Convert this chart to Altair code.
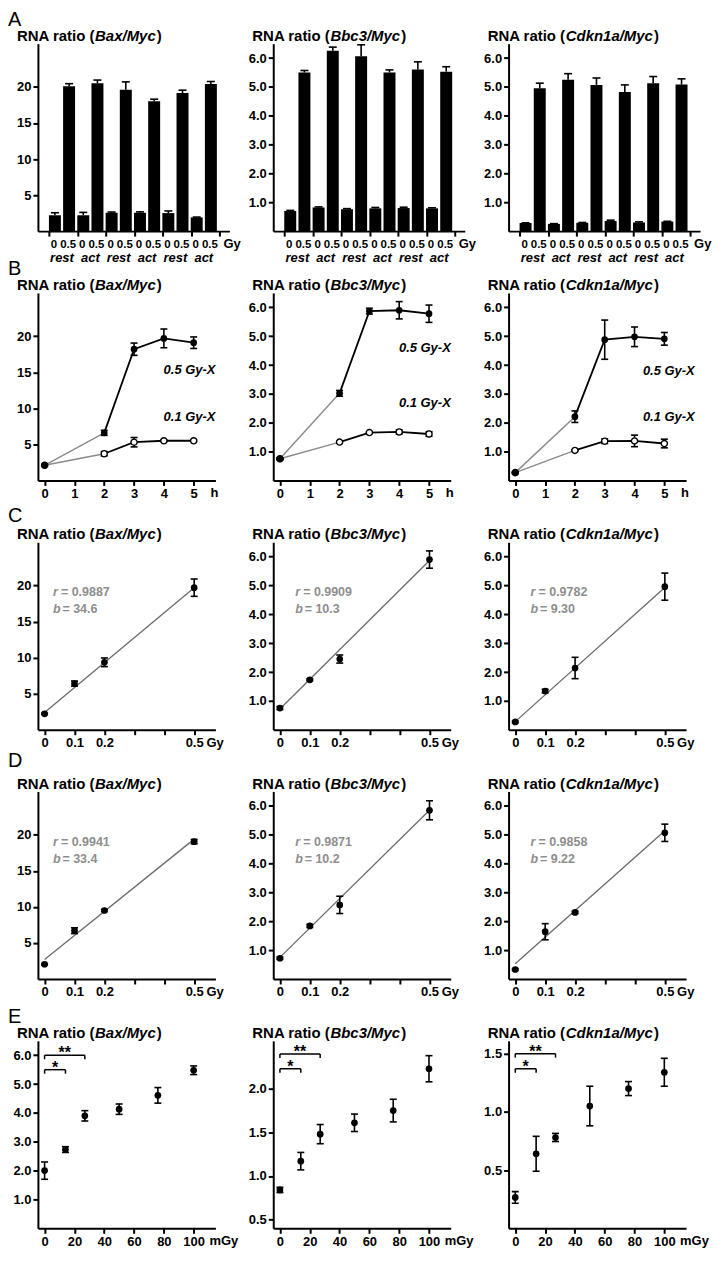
import altair as alt
import pandas as pd

FONT = "Liberation Sans, Arial, Helvetica, sans-serif"
GREY_TXT = "#8e8e8e"
GENES = ["Bax", "Bbc3", "Cdkn1a"]
LETTERS = ["A", "B", "C", "D", "E"]

# ---------------- Row A : bar charts ----------------
A_dose_labels = ["0", "0.5"] * 6
A_states = ["rest", "act", "rest", "act", "rest", "act"]
A_bax = [2.2, 20.1, 2.2, 20.5, 2.55, 19.6, 2.55, 18.0, 2.5, 19.15, 1.9, 20.4]
A_bax_err = [0.35, 0.35, 0.4, 0.45, 0.1, 1.1, 0.12, 0.3, 0.3, 0.4, 0.05, 0.35]
A_bbc3 = [0.70, 5.50, 0.82, 6.25, 0.76, 6.06, 0.79, 5.50, 0.80, 5.60, 0.79, 5.53]
A_bbc3_err = [0.02, 0.07, 0.02, 0.13, 0.02, 0.40, 0.03, 0.09, 0.03, 0.27, 0.02, 0.17]
A_cdkn1a = [0.28, 4.95, 0.25, 5.25, 0.29, 5.07, 0.35, 4.82, 0.30, 5.13, 0.33, 5.08]
A_cdkn1a_err = [0.01, 0.18, 0.01, 0.21, 0.01, 0.24, 0.03, 0.25, 0.02, 0.23, 0.01, 0.20]

# ---------------- Row B : time course ----------------
B_hours = [0, 2, 3, 4, 5]
B_series = ["0.5 Gy-X", "0.1 Gy-X"]
B_bax_hi = [2.1, 6.6, 18.2, 19.7, 19.1]
B_bax_hi_err = [0.1, 0.35, 0.85, 1.3, 0.8]
B_bax_lo = [2.1, 3.7, 5.3, 5.5, 5.5]
B_bax_lo_err = [0.1, 0.3, 0.65, 0.1, 0.1]
B_bbc3_hi = [0.75, 3.02, 5.87, 5.90, 5.78]
B_bbc3_hi_err = [0.03, 0.10, 0.10, 0.30, 0.30]
B_bbc3_lo = [0.75, 1.33, 1.66, 1.68, 1.61]
B_bbc3_lo_err = [0.03, 0.03, 0.03, 0.07, 0.08]
B_cdkn1a_hi = [0.27, 2.21, 4.88, 4.98, 4.91]
B_cdkn1a_hi_err = [0.02, 0.20, 0.68, 0.34, 0.22]
B_cdkn1a_lo = [0.27, 1.04, 1.36, 1.37, 1.28]
B_cdkn1a_lo_err = [0.02, 0.02, 0.08, 0.20, 0.15]
B_label_x = [5.73, 5.73, 6.02]
B_label_y_bax = [14.7, 8.3]
B_label_y_bbc3 = [4.46, 2.55]
B_label_y_cdkn1a = [3.67, 2.07]

# ---------------- Rows C & D : dose response ----------------
CD_dose = [0, 0.1, 0.2, 0.5]
C_bax = [2.2, 6.4, 9.35, 19.7]
C_bax_err = [0.1, 0.35, 0.6, 1.2]
C_bbc3 = [0.75, 1.73, 2.45, 5.90]
C_bbc3_err = [0.05, 0.03, 0.14, 0.30]
C_cdkn1a = [0.27, 1.34, 2.14, 4.96]
C_cdkn1a_err = [0.03, 0.06, 0.37, 0.47]
C_fit_bax = [2.4, 19.7]
C_fit_bbc3 = [0.72, 5.87]
C_fit_cdkn1a = [0.28, 4.93]
C_r = ["= 0.9887", "= 0.9909", "= 0.9782"]
C_b = ["= 34.6", "= 10.3", "= 9.30"]

D_bax = [2.05, 6.7, 9.5, 19.05]
D_bax_err = [0.1, 0.4, 0.15, 0.3]
D_bbc3 = [0.72, 1.84, 2.57, 5.85]
D_bbc3_err = [0.04, 0.05, 0.30, 0.33]
D_cdkn1a = [0.33, 1.64, 2.31, 5.07]
D_cdkn1a_err = [0.03, 0.28, 0.04, 0.30]
D_fit_bax = [2.7, 19.4]
D_fit_bbc3 = [0.75, 5.85]
D_fit_cdkn1a = [0.53, 5.14]
D_r = ["= 0.9941", "= 0.9871", "= 0.9858"]
D_b = ["= 33.4", "= 10.2", "= 9.22"]

CD_annot_x = [0.028, 0.051, 0.051]
C_annot_y_bax = [18.5, 16.2]
C_annot_y_other = [4.62, 4.04]
D_annot_y_bax = [18.4, 16.1]
D_annot_y_other = [4.60, 4.02]

# ---------------- Row E : low dose ----------------
E_dose = [0, 14, 27, 50, 76, 100]
E_bax = [2.0, 2.73, 3.9, 4.13, 4.61, 5.48]
E_bax_err = [0.3, 0.1, 0.18, 0.18, 0.27, 0.15]
E_bbc3 = [0.84, 1.17, 1.48, 1.61, 1.75, 2.23]
E_bbc3_err = [0.03, 0.10, 0.11, 0.10, 0.13, 0.15]
E_cdkn1a = [0.265, 0.64, 0.78, 1.05, 1.20, 1.34]
E_cdkn1a_err = [0.05, 0.15, 0.035, 0.17, 0.06, 0.12]
E_sig_labels = ["**", "*"]
E_sig_end = [27, 14]
E_sig_y_bax = [6.0, 5.5]
E_sig_y_bbc3 = [2.40, 2.23]
E_sig_y_cdkn1a = [1.50, 1.37]

# axis settings
Y_DOM = {"Bax": [0, 26], "Bbc3": [0, 6.5], "Cdkn1a": [0, 6.5]}
Y_TICKS = {"Bax": [5, 10, 15, 20], "Bbc3": [1, 2, 3, 4, 5, 6], "Cdkn1a": [1, 2, 3, 4, 5, 6]}
Y_FMT = {"Bax": "d", "Bbc3": ".1f", "Cdkn1a": ".1f"}
E_DOM = {"Bax": [0, 6.5], "Bbc3": [0.4, 2.55], "Cdkn1a": [0, 1.61]}
E_TICKS = {"Bax": [1, 2, 3, 4, 5, 6], "Bbc3": [0.5, 1.0, 1.5, 2.0], "Cdkn1a": [0.5, 1.0, 1.5]}

H = 188
WA = 192
W = 178
LETTER_Y = [-18, -18, -20, -25, -18]

# Arial/Liberation Sans Bold advance widths (per 1000 em)
AW = {"R": 722, "N": 722, "A": 722, " ": 278, "r": 389, "a": 556, "t": 333, "i": 278,
      "o": 611, "(": 333, ")": 333, "B": 722, "x": 556, "/": 278, "M": 833, "y": 556,
      "c": 556, "b": 611, "3": 556, "C": 722, "d": 611, "k": 556, "n": 611, "1": 556}


def tw(s, size):
    return sum(AW.get(ch, 556) for ch in s) * size / 1000.0


ONE = pd.DataFrame({"k": [0]})


def text_at(txt, x, y, size=15, weight="bold", style="normal", align="left", color="black"):
    return alt.Chart(ONE).mark_text(
        text=txt, align=align, baseline="alphabetic", font=FONT, fontSize=size,
        fontWeight=weight, fontStyle=style, color=color
    ).encode(x=alt.value(x), y=alt.value(y))


def title_layers(gene):
    x0 = -21
    w0 = tw("RNA ratio (", 15)
    w1 = tw(gene + "/Myc", 15)
    return [
        text_at("RNA ratio (", x0, -3),
        text_at(gene + "/Myc", x0 + w0, -3, style="italic"),
        text_at(")", x0 + w0 + w1 + 1, -3),
    ]


def make_x(dom, ticks, fmt=None, labels=True, expr=None):
    def f(field):
        kw = dict(values=ticks)
        if fmt is not None:
            kw["format"] = fmt
        if not labels:
            kw["labels"] = False
        if expr is not None:
            kw["labelExpr"] = expr
        return alt.X(f"{field}:Q", scale=alt.Scale(domain=dom, nice=False, zero=False),
                     axis=alt.Axis(**kw), title=None)
    return f


def make_y(dom, ticks, fmt):
    def f(field):
        return alt.Y(f"{field}:Q", scale=alt.Scale(domain=dom, nice=False, zero=False),
                     axis=alt.Axis(values=ticks, format=fmt), title=None)
    return f


def err_layers(df, Xf, Yf, both=True, cap=8):
    base = alt.Chart(df).transform_calculate(lo="datum.val - datum.err", hi="datum.val + datum.err")
    lower = "lo" if both else "val"
    out = [base.mark_rule(color="black", strokeWidth=1.6).encode(x=Xf("x"), y=Yf(lower), y2=alt.Y2("hi:Q"))]
    out.append(base.mark_tick(orient="horizontal", color="black", size=cap, thickness=1.6, opacity=1)
               .encode(x=Xf("x"), y=Yf("hi")))
    if both:
        out.append(base.mark_tick(orient="horizontal", color="black", size=cap, thickness=1.6, opacity=1)
                   .encode(x=Xf("x"), y=Yf("lo")))
    return out


def letter_layer(row):
    return text_at(LETTERS[row], -30, LETTER_Y[row], size=20, weight="normal")


# ---------------- panels ----------------
def panel_A(gi, vals, errs):
    gene = GENES[gi]
    Xf = make_x([-0.8467, 11.953], [-0.4 + 2 * k for k in range(7)], labels=False)
    Yf = make_y(Y_DOM[gene], Y_TICKS[gene], Y_FMT[gene])
    df = pd.DataFrame({"x": list(range(12)), "val": vals, "err": errs, "lab": A_dose_labels})
    st = pd.DataFrame({"x": [2 * k + 0.5 for k in range(6)], "lab": A_states})
    layers = []
    layers.append(alt.Chart(df).mark_bar(size=12, color="black", opacity=1).encode(x=Xf("x"), y=Yf("val")))
    layers += err_layers(df, Xf, Yf, both=False, cap=8)
    layers.append(alt.Chart(df).mark_text(font=FONT, fontSize=11.5, fontWeight="bold", color="black",
                                          baseline="alphabetic", dx=-1)
                  .encode(x=Xf("x"), y=alt.value(H + 17), text="lab:N"))
    layers.append(alt.Chart(st).mark_text(font=FONT, fontSize=13, fontWeight="bold", fontStyle="italic",
                                          color="black", baseline="alphabetic")
                  .encode(x=Xf("x"), y=alt.value(H + 31), text="lab:N"))
    layers.append(text_at("Gy", 186, H + 17, size=13))
    layers += title_layers(gene)
    if gi == 0:
        layers.append(letter_layer(0))
    return alt.layer(*layers).properties(width=WA, height=H)


def panel_B(gi, hi, hi_err, lo, lo_err, lab_y):
    gene = GENES[gi]
    Xf = make_x([-0.224, 5.729], [0, 1, 2, 3, 4, 5], fmt="d")
    Yf = make_y(Y_DOM[gene], Y_TICKS[gene], Y_FMT[gene])
    df = pd.DataFrame({
        "x": B_hours + B_hours,
        "val": hi + lo,
        "err": hi_err + lo_err,
        "s": ["hi"] * 5 + ["lo"] * 5,
    })
    labs = pd.DataFrame({"x": [B_label_x[gi]] * 2, "y": lab_y, "t": B_series})
    base = alt.Chart(df)
    layers = [
        base.transform_filter("datum.x <= 2").mark_line(color="#8a8a8a", strokeWidth=1.4)
        .encode(x=Xf("x"), y=Yf("val"), detail="s:N"),
        base.transform_filter("datum.x >= 2").mark_line(color="black", strokeWidth=1.8)
        .encode(x=Xf("x"), y=Yf("val"), detail="s:N"),
    ]
    layers += err_layers(df, Xf, Yf, both=True, cap=7)
    layers.append(base.transform_filter("datum.s == 'lo'").mark_circle(
        fill="white", stroke="black", strokeWidth=1.4, size=38, opacity=1).encode(x=Xf("x"), y=Yf("val")))
    layers.append(base.transform_filter("datum.s == 'hi'").mark_circle(
        color="black", size=45, opacity=1).encode(x=Xf("x"), y=Yf("val")))
    layers.append(alt.Chart(labs).mark_text(font=FONT, fontSize=13, fontWeight="bold", fontStyle="italic",
                                            color="black", align="right", baseline="alphabetic")
                  .encode(x=Xf("x"), y=Yf("y"), text="t:N"))
    layers.append(text_at("h", 173, H + 17, size=13))
    layers += title_layers(gene)
    if gi == 0:
        layers.append(letter_layer(1))
    return alt.layer(*layers).properties(width=W, height=H)


CD_EXPR = "(datum.value > 0.25 && datum.value < 0.45) ? '' : (datum.value == 0 ? '0' : format(datum.value, '.1f'))"


def panel_CD(row, gi, vals, errs, fit, rtxt, btxt, annot_y):
    gene = GENES[gi]
    Xf = make_x([-0.0223, 0.571], [0, 0.1, 0.2, 0.3, 0.4, 0.5], expr=CD_EXPR)
    Yf = make_y(Y_DOM[gene], Y_TICKS[gene], Y_FMT[gene])
    df = pd.DataFrame({"x": CD_dose, "val": vals, "err": errs})
    fitdf = pd.DataFrame({"x": [CD_dose[0], CD_dose[-1]], "val": fit})
    ann = pd.DataFrame({"x": [CD_annot_x[gi]] * 2, "y": annot_y,
                        "v": ["r", "b"], "t": [rtxt, btxt]})
    layers = [alt.Chart(fitdf).mark_line(color="#6b6b6b", strokeWidth=1.3).encode(x=Xf("x"), y=Yf("val"))]
    layers += err_layers(df, Xf, Yf, both=True, cap=7)
    layers.append(alt.Chart(df).mark_circle(color="black", size=45, opacity=1).encode(x=Xf("x"), y=Yf("val")))
    layers.append(alt.Chart(ann).mark_text(font=FONT, fontSize=12.5, fontWeight="bold", fontStyle="italic",
                                           color=GREY_TXT, align="left", baseline="alphabetic")
                  .encode(x=Xf("x"), y=Yf("y"), text="v:N"))
    for v, dx in (("r", 8), ("b", 9.5)):
        layers.append(alt.Chart(ann).transform_filter(f"datum.v == '{v}'")
                      .mark_text(font=FONT, fontSize=12.5, fontWeight="bold",
                                 color=GREY_TXT, align="left", baseline="alphabetic", dx=dx)
                      .encode(x=Xf("x"), y=Yf("y"), text="t:N"))
    layers.append(text_at("Gy", 169, H + 17, size=13))
    layers += title_layers(gene)
    if gi == 0:
        layers.append(letter_layer(row))
    return alt.layer(*layers).properties(width=W, height=H)


def panel_E(gi, vals, errs, sig_y):
    gene = GENES[gi]
    Xf = make_x([-4.48, 114.6], [0, 20, 40, 60, 80, 100], fmt="d")
    Yf = make_y(E_DOM[gene], E_TICKS[gene], ".1f")
    df = pd.DataFrame({"x": E_dose, "val": vals, "err": errs})
    sig = pd.DataFrame({"x": [0, 0], "xe": E_sig_end, "y": sig_y, "t": E_sig_labels})
    sb = alt.Chart(sig)
    layers = err_layers(df, Xf, Yf, both=True, cap=7)
    layers.append(alt.Chart(df).mark_circle(color="black", size=45, opacity=1).encode(x=Xf("x"), y=Yf("val")))
    layers.append(sb.mark_rule(color="black", strokeWidth=1.5).encode(x=Xf("x"), x2=alt.X2("xe:Q"), y=Yf("y")))
    layers.append(sb.mark_tick(orient="vertical", color="black", size=4, thickness=1.5, opacity=1, yOffset=2)
                  .encode(x=Xf("x"), y=Yf("y")))
    layers.append(sb.mark_tick(orient="vertical", color="black", size=4, thickness=1.5, opacity=1, yOffset=2)
                  .encode(x=Xf("xe"), y=Yf("y")))
    layers.append(sb.transform_calculate(xm="(datum.x + datum.xe) / 2")
                  .mark_text(font=FONT, fontSize=16, fontWeight="bold", color="black",
                             baseline="alphabetic", dy=3)
                  .encode(x=Xf("xm"), y=Yf("y"), text="t:N"))
    layers.append(text_at("mGy", 172, H + 17, size=13))
    layers += title_layers(gene)
    if gi == 0:
        layers.append(letter_layer(4))
    return alt.layer(*layers).properties(width=W, height=H)


panels = [
    panel_A(0, A_bax, A_bax_err),
    panel_A(1, A_bbc3, A_bbc3_err),
    panel_A(2, A_cdkn1a, A_cdkn1a_err),
    panel_B(0, B_bax_hi, B_bax_hi_err, B_bax_lo, B_bax_lo_err, B_label_y_bax),
    panel_B(1, B_bbc3_hi, B_bbc3_hi_err, B_bbc3_lo, B_bbc3_lo_err, B_label_y_bbc3),
    panel_B(2, B_cdkn1a_hi, B_cdkn1a_hi_err, B_cdkn1a_lo, B_cdkn1a_lo_err, B_label_y_cdkn1a),
    panel_CD(2, 0, C_bax, C_bax_err, C_fit_bax, C_r[0], C_b[0], C_annot_y_bax),
    panel_CD(2, 1, C_bbc3, C_bbc3_err, C_fit_bbc3, C_r[1], C_b[1], C_annot_y_other),
    panel_CD(2, 2, C_cdkn1a, C_cdkn1a_err, C_fit_cdkn1a, C_r[2], C_b[2], C_annot_y_other),
    panel_CD(3, 0, D_bax, D_bax_err, D_fit_bax, D_r[0], D_b[0], D_annot_y_bax),
    panel_CD(3, 1, D_bbc3, D_bbc3_err, D_fit_bbc3, D_r[1], D_b[1], D_annot_y_other),
    panel_CD(3, 2, D_cdkn1a, D_cdkn1a_err, D_fit_cdkn1a, D_r[2], D_b[2], D_annot_y_other),
    panel_E(0, E_bax, E_bax_err, E_sig_y_bax),
    panel_E(1, E_bbc3, E_bbc3_err, E_sig_y_bbc3),
    panel_E(2, E_cdkn1a, E_cdkn1a_err, E_sig_y_cdkn1a),
]

chart = alt.concat(*panels, columns=3, bounds="flush",
                   spacing={"row": 62, "column": 44}).properties(
    padding={"left": 0, "top": 0, "right": 2, "bottom": 0}
).configure_view(stroke=None).configure_axis(
    domainColor="black", domainWidth=2, tickColor="black", tickWidth=2, tickSize=5,
    grid=False, labelFont=FONT, labelFontSize=13, labelFontWeight="bold", labelColor="black",
    labelPadding=2, labelFlush=False, labelOverlap=False
)

chart.save("out.html", embed_options={"renderer": "svg", "actions": False})
